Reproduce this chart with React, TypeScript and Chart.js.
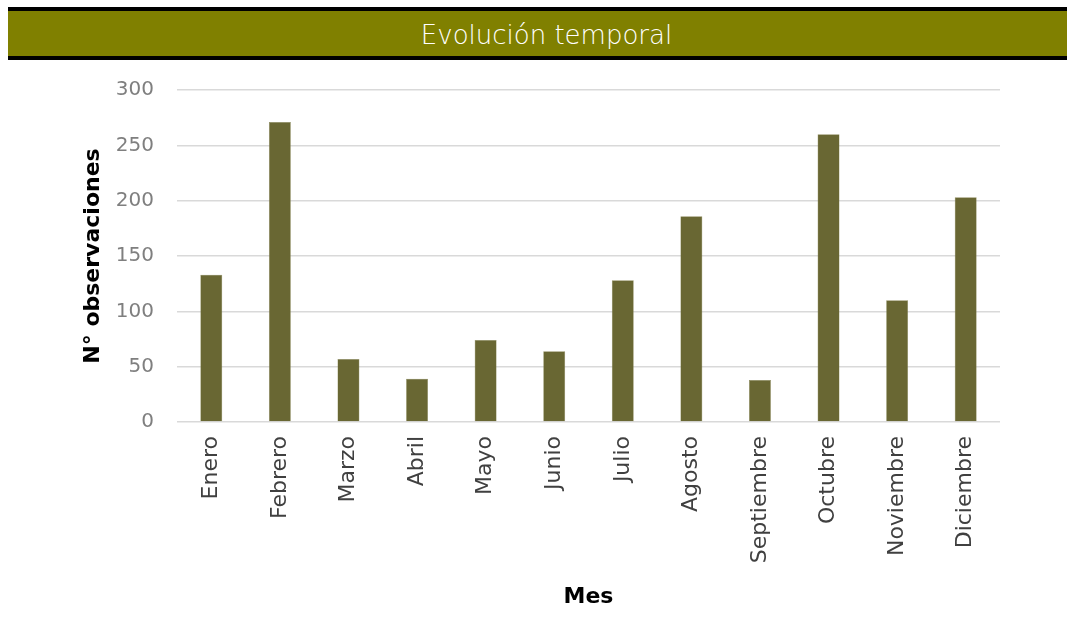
import React, { useEffect, useRef } from "react";
import { Chart, registerables } from "chart.js";

Chart.register(...registerables);

const months = [
  "Enero", "Febrero", "Marzo", "Abril", "Mayo", "Junio",
  "Julio", "Agosto", "Septiembre", "Octubre", "Noviembre", "Diciembre",
];
const observations = [133, 271, 57, 39, 74, 64, 128, 186, 38, 260, 110, 203];
const yTicks = [0, 50, 100, 150, 200, 250, 300];

const chartTitle = "Evolución temporal";
const yTitle = "N° observaciones";
const xTitle = "Mes";

export default function App() {
  const canvasRef = useRef<HTMLCanvasElement | null>(null);

  useEffect(() => {
    if (!canvasRef.current) return;
    const chart = new Chart(canvasRef.current, {
      type: "bar",
      data: {
        labels: months,
        datasets: [
          {
            data: observations,
            backgroundColor: "#696733",
            borderColor: "#8a8958",
            borderWidth: 0.5,
            barPercentage: 0.32,
            categoryPercentage: 1,
          },
        ],
      },
      options: {
        animation: false,
        responsive: false,
        maintainAspectRatio: false,
        layout: { autoPadding: false, padding: { top: 24, right: 67, left: 70, bottom: 0 } },
        plugins: { legend: { display: false }, tooltip: { enabled: false } },
        scales: {
          x: {
            grid: { display: false, drawTicks: false },
            border: { display: false },
            ticks: {
              color: "#404040",
              font: { family: "DejaVu Sans", size: 22 },
              minRotation: 90,
              maxRotation: 90,
              padding: 14,
              autoSkip: false,
            },
            title: {
              display: true,
              text: xTitle,
              color: "#000000",
              font: { family: "DejaVu Sans", size: 22, weight: "bold" },
              padding: { top: 0, bottom: 34 },
            },
            afterFit: (scale: any) => {
              scale.height = 222;
            },
          },
          y: {
            min: 0,
            max: 300,
            afterBuildTicks: (scale: any) => {
              scale.ticks = yTicks.map((v) => ({ value: v }));
            },
            grid: { color: "#d9d9d9", lineWidth: 1.5, drawTicks: false },
            border: { display: false },
            ticks: {
              color: "#7f7f7f",
              font: { family: "DejaVu Sans", size: 20 },
              padding: 23,
            },
            title: {
              display: true,
              text: yTitle,
              color: "#000000",
              font: { family: "DejaVu Sans", size: 22, weight: "bold" },
              padding: { top: 10, bottom: 0 },
            },
            afterFit: (scale: any) => {
              scale.width = 107;
            },
          },
        },
      },
    });
    return () => chart.destroy();
  }, []);

  return (
    <div style={{ position: "absolute", left: 0, top: 0, width: 1067, height: 644, background: "#ffffff" }}>
      <canvas
        ref={canvasRef}
        width={1067}
        height={589}
        style={{ position: "absolute", left: 0, top: 55, width: 1067, height: 589 }}
      />
      <div
        style={{
          position: "absolute",
          left: 8,
          top: 7,
          width: 1059,
          height: 45,
          background: "#808000",
          borderTop: "4px solid #000000",
          borderBottom: "4px solid #000000",
          color: "#ffffff",
          fontFamily: "'DejaVu Sans', sans-serif",
          fontWeight: 200,
          fontSize: 26,
          lineHeight: "48px",
          textAlign: "center",
          paddingLeft: 9,
          boxSizing: "content-box",
        }}
      >
        {chartTitle}
      </div>
    </div>
  );
}
